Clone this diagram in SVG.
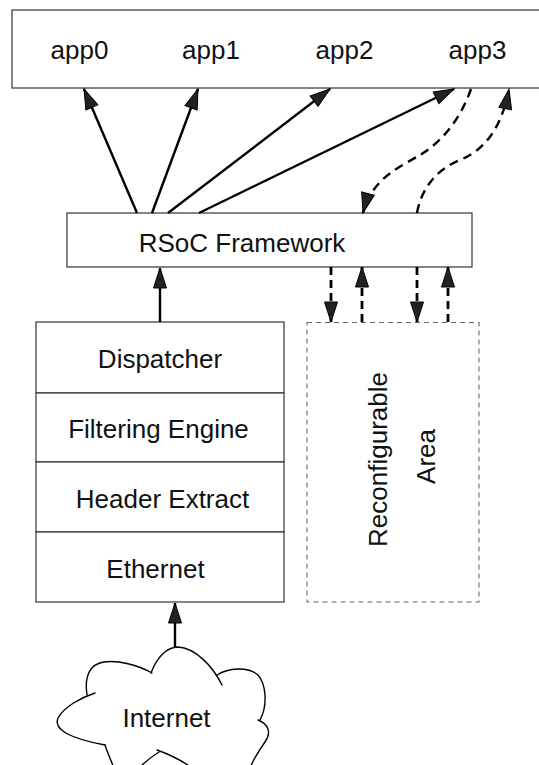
<svg xmlns="http://www.w3.org/2000/svg" width="539" height="765" viewBox="0 0 539 765">
  <style>
    .box { fill: #ffffff; stroke: #333333; stroke-width: 1.2; }
    .dbox { fill: none; stroke: #666666; stroke-width: 1.1; stroke-dasharray: 5 4; }
    .lbl { font-family: "Liberation Sans", Arial, Helvetica, sans-serif; font-size: 26px; fill: #111111; text-anchor: middle; }
    .solid { fill: none; stroke: #000000; stroke-width: 2.4; marker-end: url(#arrow); }
    .dash { fill: none; stroke: #000000; stroke-width: 2.4; stroke-dasharray: 9 6; marker-end: url(#arrow); }
    .dashv { fill: none; stroke: #000000; stroke-width: 2.8; stroke-dasharray: 8 5; marker-end: url(#arrow); }
    .cloud { fill: none; stroke: #000000; stroke-width: 1.4; stroke-linecap: round; }
  </style>
  <defs>
    <marker id="arrow" markerUnits="userSpaceOnUse" markerWidth="24" markerHeight="16" refX="20" refY="6.5" orient="auto" overflow="visible">
      <path d="M0,0 L20,6.5 L0,13 Z" fill="#222222" stroke="#000000" stroke-width="1" stroke-dasharray="none"/>
    </marker>
  </defs>

  <rect width="539" height="765" fill="#ffffff"/>

  <!-- application layer -->
  <g id="apps">
    <rect class="box" x="12" y="10" width="540" height="78"/>
    <text class="lbl" x="79.5" y="59">app0</text>
    <text class="lbl" x="211" y="59">app1</text>
    <text class="lbl" x="344.5" y="59">app2</text>
    <text class="lbl" x="477.5" y="59">app3</text>
  </g>

  <g id="rsoc">
    <rect class="box" x="67" y="213" width="405" height="54"/>
    <text class="lbl" x="242" y="251.5">RSoC Framework</text>
  </g>

  <!-- packet processing stack -->
  <g id="dispatcher">
    <rect class="box" x="36" y="322" width="248" height="71"/>
    <text class="lbl" x="160" y="367.5">Dispatcher</text>
  </g>
  <g id="filtering">
    <rect class="box" x="36" y="393" width="248" height="69"/>
    <text class="lbl" x="158.5" y="438">Filtering Engine</text>
  </g>
  <g id="header">
    <rect class="box" x="36" y="462" width="248" height="70"/>
    <text class="lbl" x="162.5" y="508">Header Extract</text>
  </g>
  <g id="ethernet">
    <rect class="box" x="36" y="532" width="248" height="70"/>
    <text class="lbl" x="155.5" y="578">Ethernet</text>
  </g>

  <g id="reconfigurable">
    <rect class="dbox" x="307" y="322.5" width="172" height="279.5"/>
    <text class="lbl" transform="translate(387,459.5) rotate(-90)">Reconfigurable</text>
    <text class="lbl" transform="translate(435,456.5) rotate(-90)">Area</text>
  </g>

  <g id="internet">
    <path class="cloud" d="M151,673 C157,657 167,647 178,647 C195,648 212,665 222,685"/>
    <path class="cloud" d="M152,673 C138,665 118,660 104,662 C90,664 84,676 87,695"/>
    <path class="cloud" d="M95,693 C80,698 64,707 58,718 C53,730 72,739 105,745"/>
    <path class="cloud" d="M105,745 C108,754 111,761 115,770"/>
    <path class="cloud" d="M139,768 C145,762 151,757 159,752"/>
    <path class="cloud" d="M157,750 C168,754 180,759 192,768"/>
    <path class="cloud" d="M217,675 C228,668 248,666 258,675 C266,684 268,705 260,720"/>
    <path class="cloud" d="M258,720 C268,724 272,732 265,742 C258,752 254,758 250,768"/>
    <text class="lbl" x="166.5" y="727">Internet</text>
  </g>

  <!-- connectors -->
  <g id="connectors">
    <path class="solid" d="M137,213 L84,89"/>
    <path class="solid" d="M152,213 L198,89"/>
    <path class="solid" d="M168,213 L330,89"/>
    <path class="solid" d="M199,213 L454,89"/>
    <path class="dash" d="M471,89 C462,115 445,140 420,155 C400,167 372,178 363,213"/>
    <path class="dash" d="M417,213 C422,185 440,168 460,160 C490,148 503,120 509,89"/>
    <path class="solid" d="M160,322 L160,268"/>
    <path class="dashv" d="M331,267 L331,322"/>
    <path class="dashv" d="M362,322 L362,267"/>
    <path class="dashv" d="M417,267 L417,322"/>
    <path class="dashv" d="M448,322 L448,267"/>
    <path class="solid" d="M175,648 L175,603"/>
  </g>
</svg>
